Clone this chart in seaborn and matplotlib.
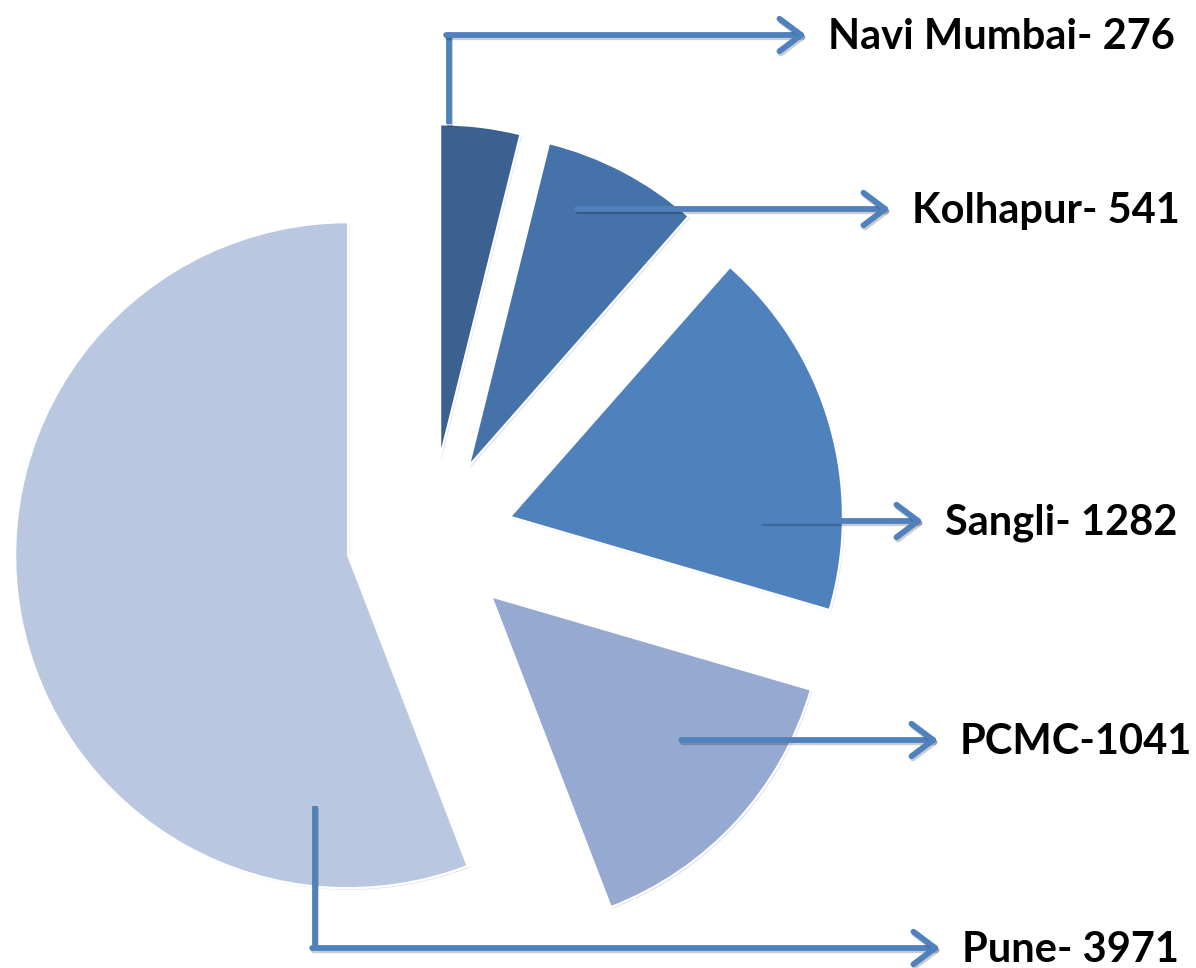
import numpy as np
import matplotlib
matplotlib.use("Agg")
import matplotlib.pyplot as plt
import matplotlib.patheffects as pe
import seaborn as sns

# Cases by city
cities = ["Navi Mumbai", "Kolhapur", "Sangli", "PCMC", "Pune"]
cases = [276, 541, 1282, 1041, 3971]
labels = ["Navi Mumbai- 276", "Kolhapur- 541", "Sangli- 1282", "PCMC-1041", "Pune- 3971"]

slice_colors = ["#3B6191", "#4573A9", "#4F81BD", "#95A9D1", "#B9C7E1"]
arrow_color = "#4F81BD"

sns.set_theme(style="white")
plt.rcParams["font.family"] = ["Lato", "DejaVu Sans"]

W, H = 1196, 968
R_PX = 333.0          # pie radius in pixels
CX, CY = 430.0, 540.0  # pie centre, pixels from top-left

fig = plt.figure(figsize=(W / 100, H / 100), dpi=100)
ax = fig.add_axes([0, 0, 1, 1])


def px(x, y):
    """Pixel position (from top-left) -> data coordinates."""
    return (x - CX) / R_PX, (CY - y) / R_PX


wedges, _ = ax.pie(
    cases,
    colors=slice_colors,
    startangle=90,
    counterclock=False,
    explode=[0.25] * len(cases),
    wedgeprops=dict(edgecolor="white", linewidth=1.6),
)
for w in wedges:
    w.set_path_effects([pe.SimplePatchShadow(offset=(1.0, -1.2), alpha=0.15), pe.Normal()])

ax.set_xlim(-CX / R_PX, (W - CX) / R_PX)
ax.set_ylim(-(H - CY) / R_PX, CY / R_PX)
ax.set_aspect("equal")
ax.axis("off")


def polar_point(w, frac, rr):
    a = np.deg2rad(w.theta1 + frac * (w.theta2 - w.theta1))
    cx, cy = w.center
    return cx + rr * w.r * np.cos(a), cy + rr * w.r * np.sin(a)


def chord_point(w, y, frac):
    cx, cy = w.center
    xs = np.linspace(cx - w.r, cx + w.r, 4001)
    dx, dy = xs - cx, y - cy
    ang = np.rad2deg(np.arctan2(dy, dx))
    # bring angle into the wedge's range
    ang = np.where(ang < w.theta1, ang + 360, ang)
    ang = np.where(ang > w.theta2, ang - 360, ang)
    inside = (np.hypot(dx, dy) <= w.r) & (ang >= w.theta1) & (ang <= w.theta2)
    xin = xs[inside]
    return xin.min() + frac * (xin.max() - xin.min()), y


# label layout: (text x, line y) in pixels, route, fraction, radius
layout = [
    (828, 35, "up", 0.89, 1.0),
    (912, 209, "h", 0.30, None),
    (945, 521, "h", 0.75, None),
    (960, 740, "h", 0.55, None),
    (962, 948, "down", 0.858, 0.76),
]

LW = 4.2
shadow = [pe.SimpleLineShadow(offset=(1.0, -1.6), shadow_color="black", alpha=0.2), pe.Normal()]
line_kw = dict(color=arrow_color, lw=LW, solid_capstyle="butt")
arrow_kw = dict(arrowstyle="->,head_length=0.6,head_width=0.45", color=arrow_color,
                lw=LW, mutation_scale=26, shrinkA=0, shrinkB=0,
                capstyle="round", joinstyle="round")

for w, text, (tx, ly, route, frac, rr) in zip(wedges, labels, layout):
    txd, lyd = px(tx, ly)
    end_x = txd - 22 / R_PX
    if route == "h":
        sx, sy = chord_point(w, lyd, frac)
        start = (sx, sy)
    else:
        sx, sy = polar_point(w, frac, rr)
        ln, = ax.plot([sx, sx], [sy, lyd], **line_kw)
        ln.set_path_effects(shadow)
        start = (sx - 2.9 / R_PX, lyd)
    ann = ax.annotate("", xy=(end_x, lyd), xytext=start, arrowprops=arrow_kw)
    ann.arrow_patch.set_path_effects(shadow)
    ax.text(txd, lyd - 2 / R_PX, text, fontsize=30, fontweight="bold", color="black",
            ha="left", va="center")

fig.savefig("out.png", dpi=100, facecolor="white")
